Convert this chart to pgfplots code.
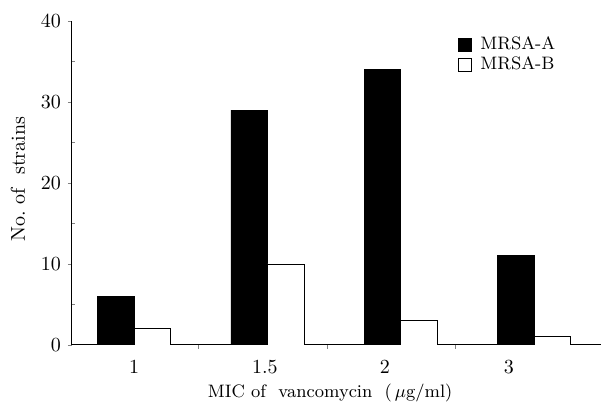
\documentclass[border=0pt]{standalone}
\usepackage{pgfplots}
\pgfplotsset{compat=1.18}

\begin{document}
\begin{tikzpicture}
\useasboundingbox (-36pt,-30.5pt) rectangle (264.5pt,172.5pt);
\begin{axis}[
  at={(0,0)}, anchor=south west,
  scale only axis,
  width=264.5pt, height=162pt,
  ybar=0pt,
  bar width=18.25pt,
  xmin=-0.465, xmax=3.5,
  ymin=0, ymax=40,
  axis x line*=bottom,
  axis y line*=left,
  axis line style={-, line width=0.5pt},
  ytick={0,10,20,30,40},
  extra y ticks={5,15,25,35},
  extra y tick labels={},
  extra y tick style={tick align=inside, major tick length=1.5pt},
  xtick={0.48,1.45,2.41},
  xticklabels={},
  extra x ticks={0,0.98,1.88,2.81},
  extra x tick labels={1,1.5,2,3},
  extra x tick style={major tick length=0pt},
  tick align=outside,
  major tick length=2pt,
  xticklabel style={yshift=-4pt},
  ylabel={No.\ of\ \ strains},
  ylabel style={at={(axis description cs:-0.102,0.512)}, anchor=center},
  xlabel={MIC of\ \ vancomycin\ \ (\,$\mu$g/ml)},
  xlabel style={at={(axis description cs:0.488,-0.148)}, anchor=center, font=\small},
  legend style={at={(0.729,0.965)}, anchor=north west, draw=none, fill=none,
    font=\small, inner sep=0pt, row sep=-2pt},
  legend cell align=left,
  legend image code/.code={\draw[#1, line width=0.4pt] (0pt,-3.25pt) rectangle (6.5pt,3.25pt);
    \path[draw=none, fill=none] (0pt,0pt) rectangle (9pt,0pt);},
]
\addplot[fill=black, draw=black, line width=0.4pt] coordinates {
  (0,6) (1,29) (2,34) (3,11)
};
\addplot[fill=white, draw=black, line width=0.4pt] coordinates {
  (0,2) (1,10) (2,3) (3,1)
};
\legend{MRSA-A, MRSA-B}
\end{axis}
\end{tikzpicture}
\end{document}
